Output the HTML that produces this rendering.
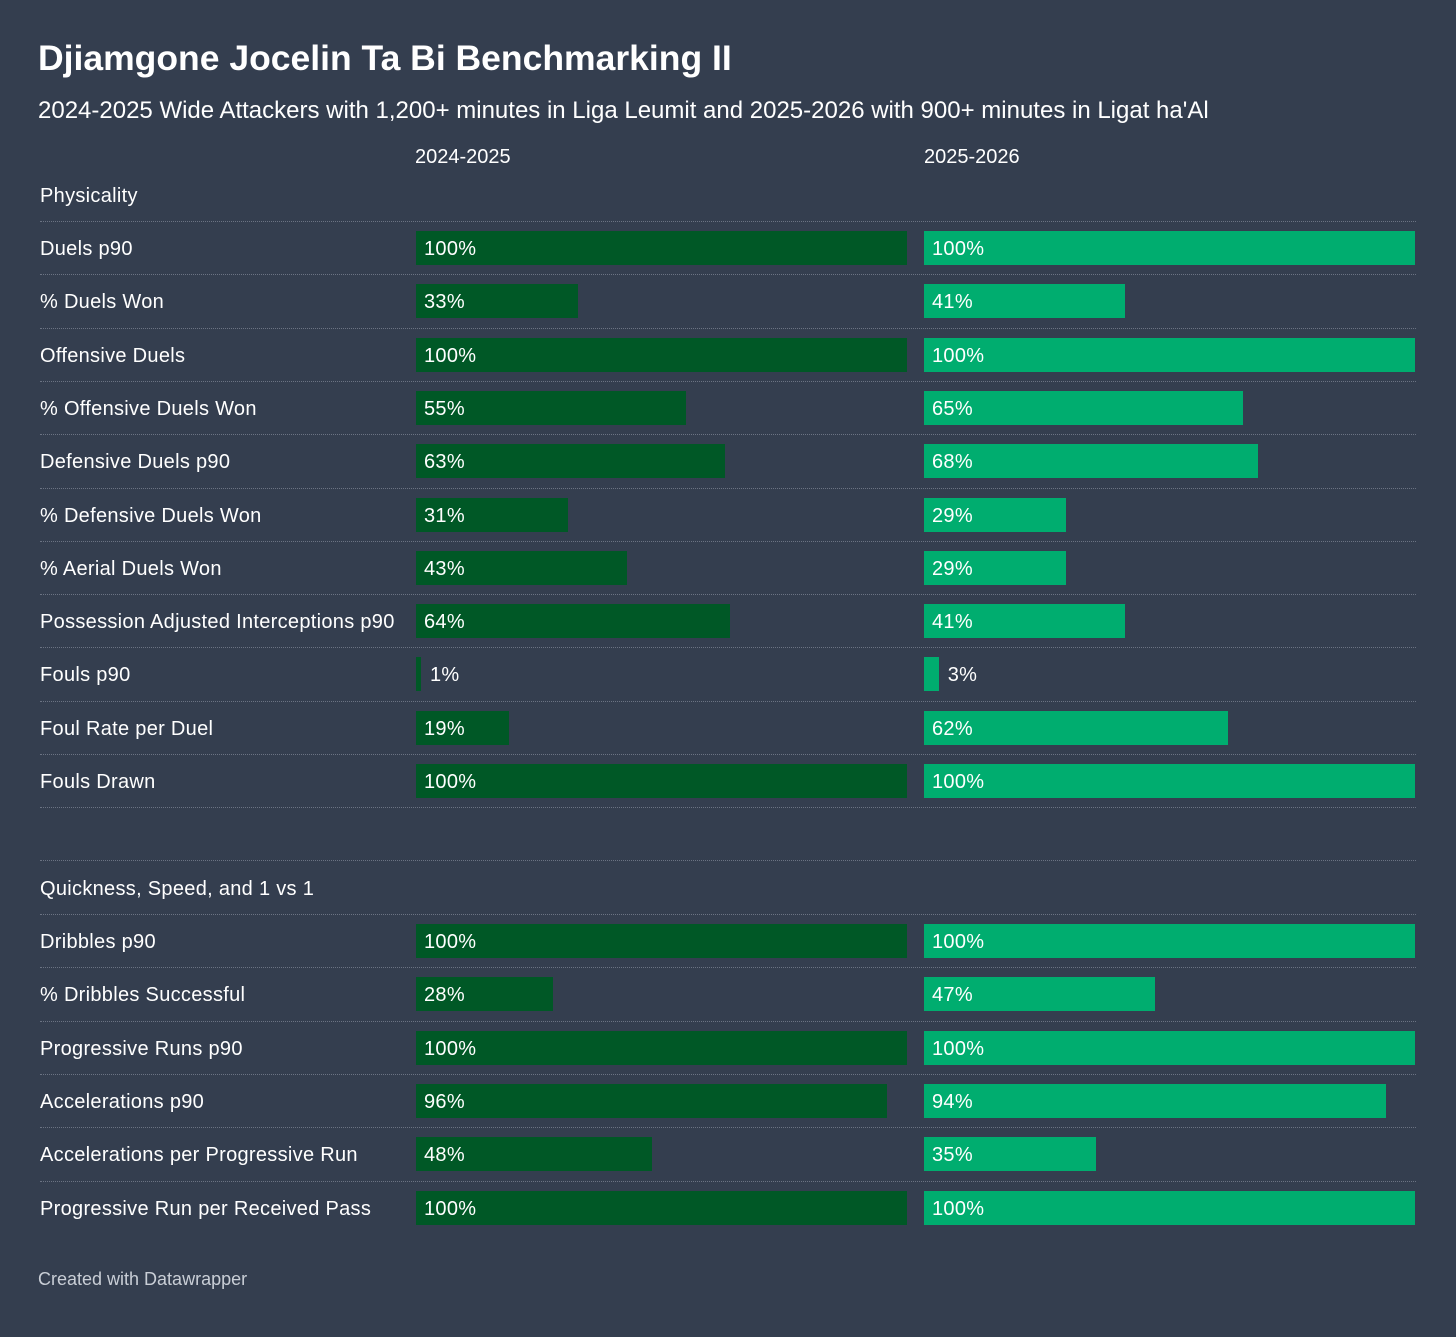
<!DOCTYPE html>
<html><head><meta charset="utf-8"><style>
body{margin:0;background:#343e4f;width:1456px;height:1337px;position:relative;overflow:hidden;font-family:"Liberation Sans",sans-serif;color:#fff}
.a{position:absolute;white-space:nowrap}
.sep{position:absolute;left:40px;width:1376px;height:0;border-top:1px dotted #6b7383}
.bar{position:absolute;height:34px}
.lbl{position:absolute;font-size:20px;line-height:34px;letter-spacing:0.3px;white-space:nowrap}
</style></head><body>
<div class="a" style="left:38px;top:38px;font-size:35.5px;font-weight:bold">Djiamgone Jocelin Ta Bi Benchmarking II</div>
<div class="a" style="left:38px;top:97px;font-size:24px">2024-2025 Wide Attackers with 1,200+ minutes in Liga Leumit and 2025-2026 with 900+ minutes in Ligat ha'Al</div>
<div class="a" style="left:415px;top:146px;font-size:20px">2024-2025</div>
<div class="a" style="left:924px;top:146px;font-size:20px">2025-2026</div>
<div class="a" style="left:38px;top:1269px;font-size:18px;color:#c9ced6">Created with Datawrapper</div>
<div id="chart"></div>
<script>
const groups1 = ["Duels p90","% Duels Won","Offensive Duels","% Offensive Duels Won","Defensive Duels p90","% Defensive Duels Won","% Aerial Duels Won","Possession Adjusted Interceptions p90","Fouls p90","Foul Rate per Duel","Fouls Drawn"];
const s1a = [100,33,100,55,63,31,43,64,1,19,100];
const s1b = [100,41,100,65,68,29,29,41,3,62,100];
const groups2 = ["Dribbles p90","% Dribbles Successful","Progressive Runs p90","Accelerations p90","Accelerations per Progressive Run","Progressive Run per Received Pass"];
const s2a = [100,28,100,96,48,100];
const s2b = [100,47,100,94,35,100];
const root=document.getElementById('chart');
const RH=53.3, W=491;
const colX=[416,924], colors=['#005826','#00ad6f'];
function sx(v){return Math.max(5,v/100*W);}
function mk(cls,name,css,text){const d=document.createElement('div');d.className=cls;


d.style.cssText=css;if(text!==undefined)d.textContent=text;root.appendChild(d);return d;}
function section(title,sepTop,names,a,b,lastSep){
  mk('lbl','section-header',`left:40px;top:${sepTop-42}px`,title);
  names.forEach((n,i)=>{
    const t=sepTop+i*RH;
    mk('sep','row-separator',`top:${t}px`);
    mk('lbl','row-label',`left:40px;top:${t+11}px`,n);
    [a[i],b[i]].forEach((v,c)=>{
      const w=sx(v);
      mk('bar','bar-'+(c?'2025':'2024'),`left:${colX[c]}px;top:${t+10}px;width:${w}px;background:${colors[c]}`);
      const inside=w>50;
      mk('lbl','value-label',`left:${colX[c]+(inside?8:w+9)}px;top:${t+11}px`,v+'%');
    });
  });
  if(lastSep) mk('sep','row-separator',`top:${sepTop+names.length*RH}px`);
}
section('Physicality',221,groups1,s1a,s1b,true);
section('Quickness, Speed, and 1 vs 1',914,groups2,s2a,s2b,false);
mk('sep','row-separator','top:860px');
</script>
</body></html>
